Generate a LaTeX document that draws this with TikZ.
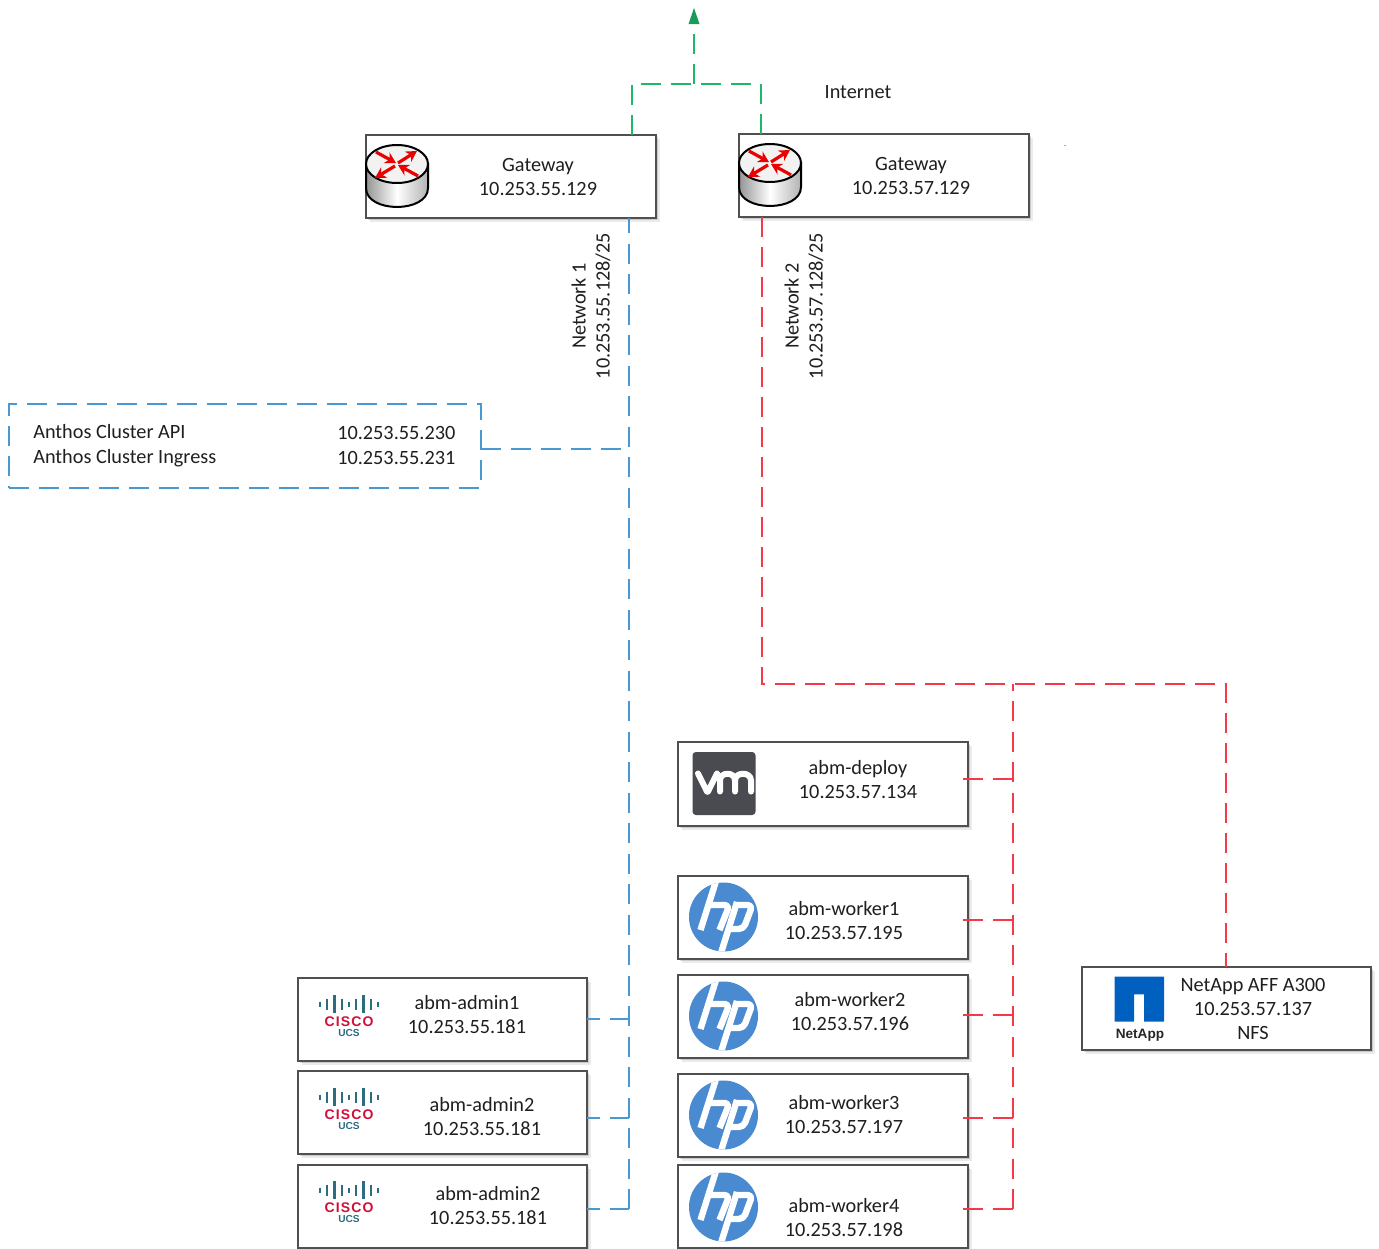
\documentclass[tikz,border=0pt]{standalone}
\usepackage{fontspec}
\setmainfont{Carlito}
\newfontfamily\logofont[LetterSpace=8]{Liberation Sans}
\newfontfamily\logoplain{Liberation Sans}
\usetikzlibrary{arrows.meta,shadows}
\definecolor{bluenet}{HTML}{4A98D2}
\definecolor{rednet}{HTML}{F43A48}
\definecolor{greennet}{HTML}{1DB868}
\definecolor{boxedge}{HTML}{505050}
\definecolor{hpblue}{HTML}{4A8AD0}
\definecolor{vmgray}{HTML}{4A4B50}
\definecolor{napblue}{HTML}{0060C0}
\definecolor{ciscored}{HTML}{D0103A}
\definecolor{ciscoteal}{HTML}{2C6E7F}
\tikzset{
  devbox/.style={draw=boxedge,fill=white,line width=0.95pt,inner sep=0pt,outer sep=0pt,
    drop shadow={shadow xshift=3pt,shadow yshift=-3pt,opacity=.08,fill=black},
    drop shadow={shadow xshift=1.5pt,shadow yshift=-1.5pt,opacity=.14,fill=black}},
  lbl/.style={font=\fontsize{15.2}{18}\selectfont,align=center,inner sep=0pt,text=black!88},
  netline/.style={line width=0.9pt,dash pattern=on 15pt off 7.5pt},
  busline/.style={line width=0.9pt,dash pattern=on 15pt off 7.875pt},
  bluel/.style={netline,draw=bluenet},
  redl/.style={netline,draw=rednet},
  greenl/.style={netline,draw=greennet},
  routerarrow/.style={draw=red!92!black,line width=2.4pt,-{Stealth[length=8pt,width=9pt]}},
  hpstroke/.style={white,line width=4.8pt,line join=round},
  vmstroke/.style={white,line width=4.5pt,line cap=round,line join=round},
}
\newcommand{\devbox}[5]{\node[devbox,minimum width={(#4-#2)*0.75pt},minimum height={(#5-#3)*0.75pt}] (#1) at ({(#2+#4)/2},{(#3+#5)/2}) {};}
\newcommand{\routericon}[2]{\begin{scope}[shift={(#1,#2)}]
  \path[left color=black!42,right color=black!30,middle color=white,draw=black,line width=1.5pt]
    (-31,0) -- (-31,24) .. controls (-31,49.3) and (31,49.3) .. (31,24) -- (31,0) -- cycle;
  \path[fill=black!5,draw=black,line width=1.5pt] (0,0) ellipse[x radius=31,y radius=19];
  \draw[routerarrow] (-21,-12) -- (-1,-1);
  \draw[routerarrow] (1,-1) -- (20,-13);
  \draw[routerarrow] (-2,2) -- (-22,14);
  \draw[routerarrow] (21,12) -- (1,1);
\end{scope}}
\newcommand{\ciscoicon}[2]{\begin{scope}[shift={(#1,#2)}]
  \foreach \i/\h in {-4/5,-3/11,-2/18,-1/11,0/5,1/11,2/18,3/11,4/5}
    \draw[ciscoteal,line width=1.7pt] (\i*7.3,-\h/2) -- (\i*7.3,\h/2);
  \node[inner sep=0pt,text=ciscored,font=\logofont\bfseries\fontsize{10.5}{12}\selectfont] at (0,17.5) {CISCO};
  \node[inner sep=0pt,text=ciscoteal,font=\logoplain\bfseries\fontsize{7.6}{9}\selectfont] at (0,29.5) {UCS};
\end{scope}}
\newcommand{\hpicon}[2]{\begin{scope}[shift={(#1,#2)}]
  \fill[hpblue] (0,0) circle[radius=34.5*0.75pt];
  \clip (0,0) circle[radius=34.5*0.75pt];
  \draw[hpstroke] (-7.5,-36) -- (-23,13);
  \draw[hpstroke,rounded corners=3.5pt] (-17,-12) -- (6,-12) -- (-4,13);
  \draw[hpstroke] (13.5,-15) -- (-2.5,36);
  \draw[hpstroke,rounded corners=3.5pt] (11,-12) -- (29,-12) -- (20,12) -- (6,12);
\end{scope}}
\newcommand{\vmicon}[2]{\begin{scope}[shift={(#1,#2)}]
  \fill[vmgray,rounded corners=2.5pt] (-31.5,-31.5) rectangle (31.5,31.5);
  \draw[vmstroke] (-26,-10) -- (-18,6) .. controls (-17,9) and (-16,9) .. (-15,6) -- (-7,-10);
  \draw[vmstroke] (-4,8) -- (-4,-3) .. controls (-4,-12) and (11,-12) .. (11,-3) -- (11,8);
  \draw[vmstroke] (11,-3) .. controls (11,-12) and (27,-12) .. (27,-3) -- (27,8);
\end{scope}}
\begin{document}
\begin{tikzpicture}[x=0.75pt,y=-0.75pt]
\useasboundingbox (0,0) rectangle (1379,1249);
% boxes
\devbox{gwa}{366}{135}{656}{218}
\devbox{gwb}{739}{134}{1029}{217}
\devbox{deploy}{678}{742}{968}{826}
\devbox{workera}{678}{876}{968}{959}
\devbox{workerb}{678}{975}{968}{1058}
\devbox{workerc}{678}{1074}{968}{1157}
\devbox{workerd}{678}{1165}{968}{1248}
\devbox{admina}{298}{978}{587}{1061}
\devbox{adminb}{298}{1071}{587}{1154}
\devbox{adminc}{298}{1165}{587}{1248}
\devbox{netapp}{1082}{967}{1371}{1050}
\node[draw=bluenet,line width=0.9pt,dash pattern=on 15pt off 7.5pt,inner sep=0pt,outer sep=0pt,minimum width={472*0.75pt},minimum height={84*0.75pt}] (anthos) at (245,446) {};
% icons
\routericon{397}{164}
\routericon{770}{163}
\ciscoicon{349}{1004}
\ciscoicon{349}{1097}
\ciscoicon{349}{1190}
\vmicon{724}{783.5}
\hpicon{723.5}{917}
\hpicon{723.5}{1016}
\hpicon{723.5}{1115}
\hpicon{723.5}{1207}
\fill[napblue] (1114.7,976.7) -- (1164,976.7) -- (1164,1021.7) -- (1144,1021.7) -- (1144,994.3) -- (1134,994.3) -- (1134,1021.7) -- (1114.7,1021.7) -- cycle;
\node[inner sep=0pt,text=black!85,font=\logoplain\bfseries\fontsize{10.2}{12}\selectfont] (napname) at (1140,1035.7) {NetApp};
% text
\node[lbl] (tgwa) at (538,177) {Gateway\\10.253.55.129};
\node[lbl] (tgwb) at (911,176) {Gateway\\10.253.57.129};
\node[lbl] (tinternet) at (858,92.5) {Internet};
\node[inner sep=0pt,font=\fontsize{6}{7}\selectfont] (tdot) at (1065,146) {.};
\node[lbl,rotate=90] (tneta) at (591,306) {Network 1\\10.253.55.128/25};
\node[lbl,rotate=90] (tnetb) at (804,306) {Network 2\\10.253.57.128/25};
\node[lbl,align=left,anchor=west] (tanthosa) at (33,445.5) {Anthos Cluster API\\[0.75pt]Anthos Cluster Ingress};
\node[lbl,align=left,anchor=west] (tanthosb) at (337,445.5) {10.253.55.230\\[0.75pt]10.253.55.231};
\node[lbl] (tdeploy) at (858,780) {abm-deploy\\10.253.57.134};
\node[lbl] (twa) at (844,921) {abm-worker1\\10.253.57.195};
\node[lbl] (twb) at (850,1012) {abm-worker2\\10.253.57.196};
\node[lbl] (twc) at (844,1115) {abm-worker3\\10.253.57.197};
\node[lbl] (twd) at (844,1218) {abm-worker4\\10.253.57.198};
\node[lbl] (taa) at (467,1015) {abm-admin1\\10.253.55.181};
\node[lbl] (tab) at (482,1117) {abm-admin2\\10.253.55.181};
\node[lbl] (tac) at (488,1206) {abm-admin2\\10.253.55.181};
\node[lbl] (tnap) at (1253,1009) {NetApp AFF A300\\10.253.57.137\\NFS};
% junction coordinates
\coordinate (gtop) at (694,84);
\coordinate (gtip) at (694,8);
\coordinate (gl) at (632,84);
\coordinate (gr) at (761,84);
\coordinate (bbus) at (629,449);
\coordinate (bend) at (629,1209);
\coordinate (rturn) at (762,684);
\coordinate (rbranch) at (1013,684);
\coordinate (rfar) at (1226,684);
\coordinate (rja) at (1013,779);
\coordinate (rjb) at (1013,920);
\coordinate (rjc) at (1013,1015);
\coordinate (rjd) at (1013,1118);
\coordinate (rje) at (1013,1209);
\coordinate (bja) at (629,1019);
\coordinate (bjb) at (629,1118);
% green
\draw[greenl] (gwa.north -| gl) -- (gl) -- (gr) -- (gwb.north -| gr);
\draw[greenl] (gtop) -- (694,22);
\fill[greennet!85!black] (gtip) -- (699.5,24) -- (688.5,24) -- cycle;
% blue
\draw[busline,draw=bluenet,dash phase=3.75pt] (gwa.south -| bbus) -- (bend);
\draw[bluel] (anthos.east |- bbus) -- (bbus);
\draw[bluel,dash phase=5.25pt] (admina.east |- bja) -- (bja);
\draw[bluel,dash phase=5.25pt] (adminb.east |- bjb) -- (bjb);
\draw[bluel,dash phase=5.25pt] (adminc.east |- bend) -- (bend);
% red
\draw[redl] (gwb.south -| rturn) -- (rturn) -- (rfar) -- (netapp.north -| rfar);
\draw[busline,draw=rednet,dash phase=10pt] (rbranch) -- (rje);
\draw[redl] ([xshift=-3.75pt]deploy.east |- rja) -- (rja);
\draw[redl] ([xshift=-3.75pt]workera.east |- rjb) -- (rjb);
\draw[redl] ([xshift=-3.75pt]workerb.east |- rjc) -- (rjc);
\draw[redl] ([xshift=-3.75pt]workerc.east |- rjd) -- (rjd);
\draw[redl] ([xshift=-3.75pt]workerd.east |- rje) -- (rje);
\end{tikzpicture}
\end{document}
